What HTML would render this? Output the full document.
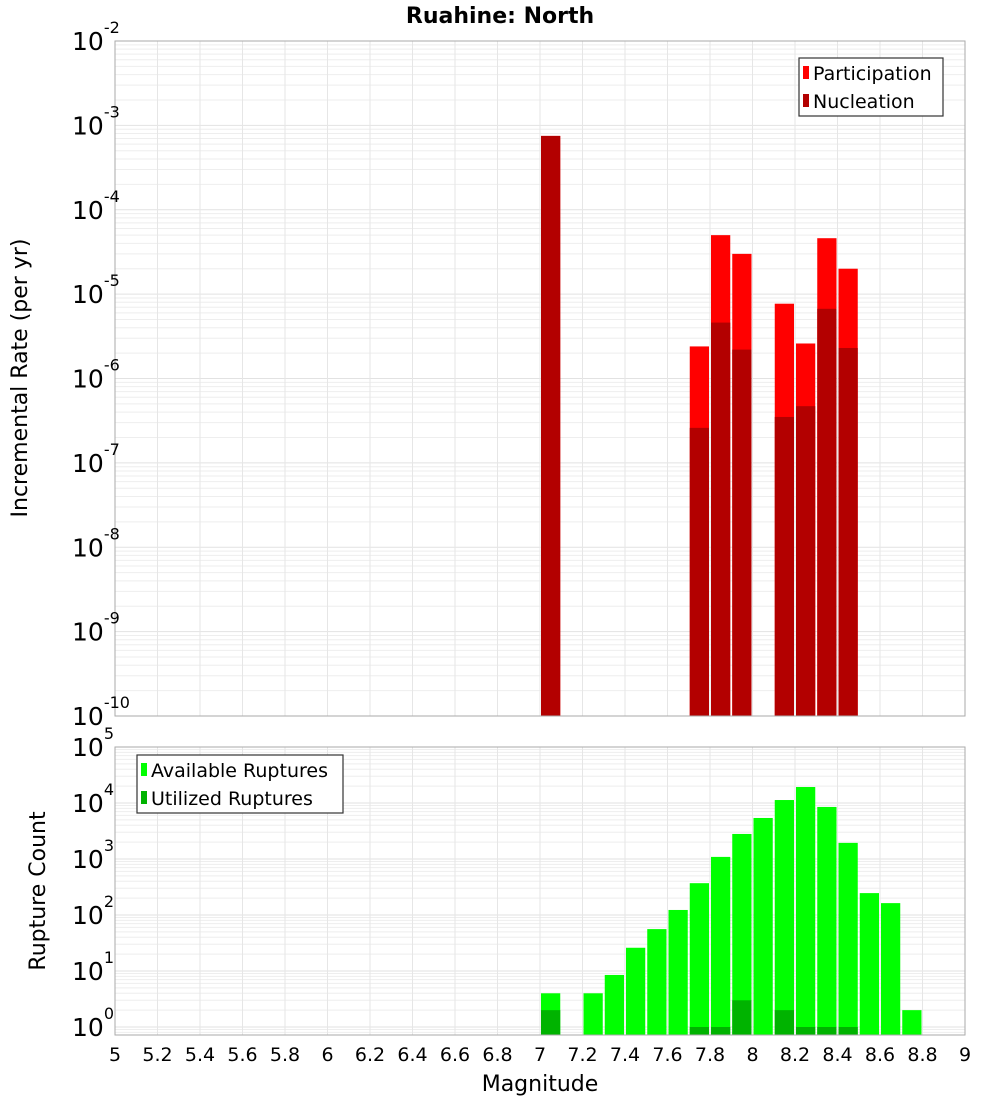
<!DOCTYPE html>
<html><head><meta charset="utf-8"><style>
body{margin:0;background:#fff}
svg{display:block;font-family:"Liberation Sans","DejaVu Sans",sans-serif}
</style></head><body>
<svg id="chart" width="1000" height="1100" viewBox="0 0 1000 1100" xmlns="http://www.w3.org/2000/svg">
<text x="500" y="23" text-anchor="middle" font-size="22" font-weight="bold" font-family="DejaVu Sans, sans-serif">Ruahine: North</text>
<g id="gtop"></g><g id="gbot"></g>
</svg>
<script>
const bins = [7.0,7.1,7.2,7.3,7.4,7.5,7.6,7.7,7.8,7.9,8.0,8.1,8.2,8.3,8.4,8.5,8.6,8.7];
const participation = [7.5e-4,0,0,0,0,0,0,2.4e-6,5.0e-5,3.0e-5,0,7.7e-6,2.6e-6,4.6e-5,2.0e-5,0,0,0];
const nucleation    = [7.5e-4,0,0,0,0,0,0,2.6e-7,4.6e-6,2.2e-6,0,3.5e-7,4.7e-7,6.7e-6,2.3e-6,0,0,0];
const available = [4,0,4,8.5,26,56,123,370,1090,2800,5400,11300,19300,8500,1940,246,163,2];
const utilized  = [2,0,0,0,0,0,0,1,1,3,0,2,1,1,1,0,0,0];
const xTicks = [5,5.2,5.4,5.6,5.8,6,6.2,6.4,6.6,6.8,7,7.2,7.4,7.6,7.8,8,8.2,8.4,8.6,8.8,9];
const topExps = [-2,-3,-4,-5,-6,-7,-8,-9,-10];
const botExps = [5,4,3,2,1,0];

const NS="http://www.w3.org/2000/svg";
const L=115,R=965;
const X=m=>L+(m-5)/4*(R-L);
const axTop={t:41,b:716,maxE:-2,dec:(716-41)/8};
const axBot={t:747,b:1035,maxE:5,dec:56};
const Y=(ax,v)=>Math.min(ax.b,ax.t+(ax.maxE-Math.log10(v))*ax.dec);
function mk(p,tag,a){const e=document.createElementNS(NS,tag);for(const k in a)e.setAttribute(k,a[k]);p.appendChild(e);return e;}

function grid(g,ax,minE,maxE){
  for(let e=minE-1;e<maxE;e++)for(let k=1;k<10;k++){
    const y=Y(ax,k*Math.pow(10,e)); if(y<ax.t-0.5||y>=ax.b)continue;
    const l=mk(g,'line',{x1:L,x2:R,y1:y,y2:y,stroke:k==1?'#e2e2e2':'#eeeeee','stroke-width':1});
    
    
  }
  xTicks.forEach(t=>{const x=X(t);
    const l=mk(g,'line',{x1:x,x2:x,y1:ax.t,y2:ax.b,stroke:'#e6e6e6','stroke-width':1});
    
    });
}
function frame(g,ax){const r=mk(g,'rect',{x:L,y:ax.t,width:R-L,height:ax.b-ax.t,fill:'none',stroke:'#aaaaaa','stroke-width':1});
  
  }
function yLabels(g,ax,exps){
  exps.forEach(e=>{const y=ax.t+(ax.maxE-e)*ax.dec;
    const t=mk(g,'text',{x:72,y:y+9,'font-size':25,'font-family':'DejaVu Sans, sans-serif'});
    
    
    t.textContent='10';
    const s=mk(t,'tspan',{dy:-17,'font-size':16});s.textContent=String(e);});
}
function bars(g,ax,vals,color,name){
  bins.forEach((m,i)=>{const v=vals[i];if(!v)return;
    const x0=X(m)+1,x1=X(m+0.1)-1,y=Y(ax,v);
    const r=mk(g,'rect',{x:x0,y:y,width:x1-x0,height:ax.b-y,fill:color});
    
    });
}
function legend(g,x,y,w,items){
  const b=mk(g,'rect',{x:x,y:y,width:w,height:58,fill:'#fff',stroke:'#333','stroke-width':1.2});
  
  
  items.forEach((it,i)=>{const yy=y+15+i*28;
    const s=mk(g,'rect',{x:x+4,y:yy-7,width:6,height:13,fill:it[1]});
    
    
    const t=mk(g,'text',{x:x+14,y:yy+7,'font-size':19,'font-family':'DejaVu Sans, sans-serif'});
    
    
    t.textContent=it[0];});
}
const gt=document.getElementById('gtop'),gb=document.getElementById('gbot');
grid(gt,axTop,-10,-2);grid(gb,axBot,0,5);
bars(gt,axTop,participation,'#ff0000','participation-bar');
bars(gt,axTop,nucleation,'#b30000','nucleation-bar');
bars(gb,axBot,available,'#00ff00','available-bar');
bars(gb,axBot,utilized,'#00b300','utilized-bar');
frame(gt,axTop);frame(gb,axBot);
yLabels(gt,axTop,topExps);yLabels(gb,axBot,botExps);
legend(gt,799,58,144,[['Participation','#ff0000'],['Nucleation','#b30000']]);
legend(gb,137,755,206,[['Available Ruptures','#00ff00'],['Utilized Ruptures','#00b300']]);
xTicks.forEach(t=>{const e=mk(gb,'text',{x:X(t),y:1061,'text-anchor':'middle','font-size':19,'font-family':'DejaVu Sans, sans-serif'});
  
  
  e.textContent=String(t);});
const xt=mk(gb,'text',{x:540,y:1091,'text-anchor':'middle','font-size':22,'font-family':'DejaVu Sans, sans-serif'});


xt.textContent='Magnitude';
const yt=mk(gt,'text',{x:0,y:0,transform:'translate(27,378) rotate(-90)','text-anchor':'middle','font-size':22,'font-family':'DejaVu Sans, sans-serif'});


yt.textContent='Incremental Rate (per yr)';
const yt2=mk(gb,'text',{x:0,y:0,transform:'translate(45,891) rotate(-90)','text-anchor':'middle','font-size':22,'font-family':'DejaVu Sans, sans-serif'});


yt2.textContent='Rupture Count';
</script>
</body></html>
